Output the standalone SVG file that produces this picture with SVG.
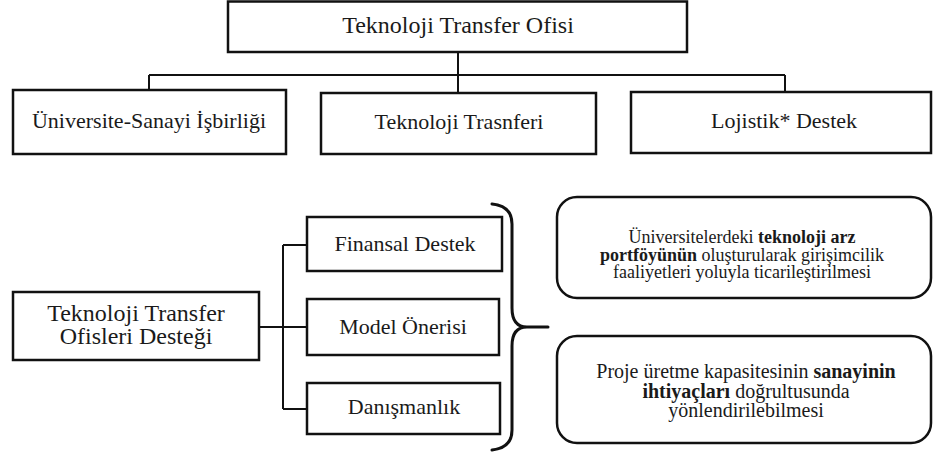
<svg xmlns="http://www.w3.org/2000/svg" width="933" height="454" viewBox="0 0 933 454">
  <style>
    .box { fill: #ffffff; stroke: #111111; stroke-width: 2.5; }
    .rbox { fill: #ffffff; stroke: #111111; stroke-width: 2.5; }
    .conn { fill: none; stroke: #111111; stroke-width: 2; }
    .brace { fill: none; stroke: #111111; stroke-width: 3; stroke-linecap: round; }
    .lbl { font-family: "Liberation Serif", "Times New Roman", serif; fill: #1a1a1a; text-anchor: middle; }
    .t24 { font-size: 24px; }
    .t22 { font-size: 22px; }
    .t20 { font-size: 20px; }
    .t18 { font-size: 18px; }
    .b { font-weight: bold; }
  </style>
  <rect x="0" y="0" width="933" height="454" fill="#ffffff"/>

  <g id="connectors">
    <path class="conn" d="M458 52 V93 M149 75 H785 M149 75 V90 M785 75 V92"/>
    <path class="conn" d="M259 327 H307 M283 245 V409 M283 245 H307 M283 409 H307"/>
    <path class="brace" d="M492 204 Q512 206 512 224 V308 Q512 327 527 327 H548 M527 327 Q512 327 512 346 V430 Q512 448 492 450"/>
  </g>

  <g id="node-tto">
    <rect class="box" x="228" y="1.5" width="459" height="50.5"/>
    <text class="lbl t24" x="458" y="33">Teknoloji Transfer Ofisi</text>
  </g>
  <g id="node-usi">
    <rect class="box" x="13" y="90" width="273" height="64"/>
    <text class="lbl t22" x="149" y="128">Üniversite-Sanayi İşbirliği</text>
  </g>
  <g id="node-tt">
    <rect class="box" x="321" y="93" width="275" height="61"/>
    <text class="lbl t22" x="459" y="129">Teknoloji Trasnferi</text>
  </g>
  <g id="node-ld">
    <rect class="box" x="631" y="92" width="300" height="61"/>
    <text class="lbl t22" x="784" y="128">Lojistik* Destek</text>
  </g>

  <g id="node-ttod">
    <rect class="box" x="13" y="292" width="246" height="68"/>
    <text class="lbl t24" x="136" y="321">Teknoloji Transfer</text>
    <text class="lbl t24" x="136" y="344">Ofisleri Desteği</text>
  </g>
  <g id="node-fd">
    <rect class="box" x="307" y="217" width="195" height="54"/>
    <text class="lbl t22" x="405" y="251">Finansal Destek</text>
  </g>
  <g id="node-mo">
    <rect class="box" x="307" y="299" width="192" height="56"/>
    <text class="lbl t22" x="403" y="334">Model Önerisi</text>
  </g>
  <g id="node-dn">
    <rect class="box" x="307" y="383" width="193" height="51"/>
    <text class="lbl t22" x="404" y="414">Danışmanlık</text>
  </g>

  <g id="node-r1">
    <rect class="rbox" x="557" y="197" width="374" height="101" rx="20" ry="20"/>
    <text class="lbl t18" x="742" y="243">Üniversitelerdeki <tspan class="b">teknoloji arz</tspan></text>
    <text class="lbl t18" x="742" y="260.5"><tspan class="b">portföyünün</tspan> oluşturularak girişimcilik</text>
    <text class="lbl t18" x="742" y="278">faaliyetleri yoluyla ticarileştirilmesi</text>
  </g>
  <g id="node-r2">
    <rect class="rbox" x="557" y="336" width="374" height="107" rx="20" ry="20"/>
    <text class="lbl t20" x="746" y="378">Proje üretme kapasitesinin <tspan class="b">sanayinin</tspan></text>
    <text class="lbl t20" x="746" y="397.5"><tspan class="b">ihtiyaçları</tspan> doğrultusunda</text>
    <text class="lbl t20" x="746" y="417">yönlendirilebilmesi</text>
  </g>
</svg>
